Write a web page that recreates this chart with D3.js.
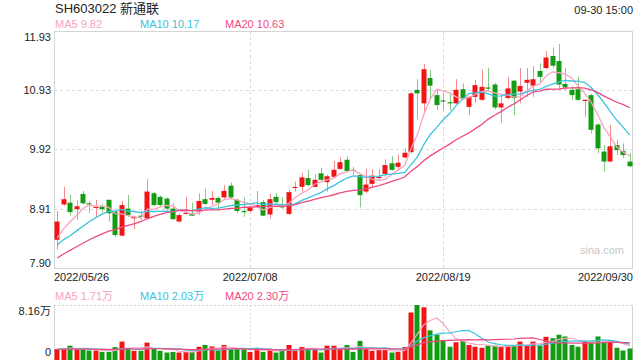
<!DOCTYPE html>
<html><head><meta charset="utf-8">
<script src="https://cdn.jsdelivr.net/npm/d3@7"></script>
<style>
html,body{margin:0;padding:0;background:#fff;}
svg{display:block;font-family:"Liberation Sans",Arial,"Noto Sans CJK SC",sans-serif;}
</style></head><body>
<svg id="c" width="640" height="360"></svg>
<script>
const dates = ["2022/05/26","2022/05/27","2022/05/30","2022/05/31",
"2022/06/01","2022/06/02","2022/06/06","2022/06/07","2022/06/08","2022/06/09","2022/06/10","2022/06/13","2022/06/14","2022/06/15","2022/06/16","2022/06/17","2022/06/20","2022/06/21","2022/06/22","2022/06/23","2022/06/24","2022/06/27","2022/06/28","2022/06/29","2022/06/30",
"2022/07/01","2022/07/04","2022/07/05","2022/07/06","2022/07/07","2022/07/08","2022/07/11","2022/07/12","2022/07/13","2022/07/14","2022/07/15","2022/07/18","2022/07/19","2022/07/20","2022/07/21","2022/07/22","2022/07/25","2022/07/26","2022/07/27","2022/07/28","2022/07/29",
"2022/08/01","2022/08/02","2022/08/03","2022/08/04","2022/08/05","2022/08/08","2022/08/09","2022/08/10","2022/08/11","2022/08/12","2022/08/15","2022/08/16","2022/08/17","2022/08/18","2022/08/19","2022/08/22","2022/08/23","2022/08/24","2022/08/25","2022/08/26","2022/08/29","2022/08/30","2022/08/31",
"2022/09/01","2022/09/02","2022/09/05","2022/09/06","2022/09/07","2022/09/08","2022/09/09","2022/09/13","2022/09/14","2022/09/15","2022/09/16","2022/09/19","2022/09/20","2022/09/21","2022/09/22","2022/09/23","2022/09/26","2022/09/27","2022/09/28","2022/09/29","2022/09/30"];

const open  = [8.38,8.98,9.01,8.90,9.16,9.00,8.93,8.94,9.06,8.86,8.45,8.91,8.745,8.79,8.745,9.17,9.11,9.08,8.91,8.69,
8.83,8.83,8.86,9.07,9.06,9.09,9.10,9.30,9.06,8.87,8.87,8.94,9.02,8.81,9.11,8.96,8.82,9.27,9.28,9.43,
9.28,9.51,9.36,9.45,9.585,9.74,9.57,9.48,9.20,9.33,9.44,9.50,9.68,9.62,9.78,9.87,10.93,10.70,11.13,10.84,
10.75,10.72,10.70,10.94,10.64,10.81,10.76,10.97,11.02,10.63,10.79,11.085,10.90,11.05,11.00,11.25,11.30,11.505,11.42,11.03,
10.93,10.94,10.75,10.84,10.34,9.88,9.71,9.99,9.89,9.71];
const high  = [8.87,9.28,9.14,9.05,9.21,9.04,9.06,8.99,9.06,8.88,9.04,9.14,8.79,8.88,9.41,9.19,9.13,9.10,9.00,8.83,
9.11,9.01,9.17,9.25,9.21,9.12,9.31,9.35,9.08,9.10,8.96,9.21,9.06,9.16,9.17,9.10,9.23,9.37,9.52,9.57,
9.50,9.60,9.49,9.72,9.78,9.80,9.62,9.50,9.58,9.58,9.58,9.75,9.80,9.83,9.935,10.90,11.11,11.37,11.27,10.93,
10.87,10.87,11.11,11.04,10.83,11.10,11.27,11.30,11.05,10.84,11.15,11.10,11.30,11.30,11.335,11.38,11.59,11.65,11.71,11.30,
10.99,11.15,10.77,10.86,10.36,9.99,10.33,10.08,10.02,9.85];
const low   = [8.21,8.96,8.79,8.72,8.98,8.83,8.77,8.85,8.69,8.43,8.44,8.77,8.56,8.71,8.74,8.95,8.95,8.88,8.72,8.67,
8.81,8.78,8.80,8.97,8.97,8.89,9.08,9.08,8.83,8.77,8.85,8.93,8.78,8.74,9.00,8.91,8.80,9.20,9.20,9.29,
9.27,9.38,9.20,9.43,9.57,9.53,9.48,8.93,9.17,9.28,9.40,9.45,9.55,9.55,9.76,9.85,10.42,10.56,10.79,10.59,
10.59,10.58,10.69,10.77,10.50,10.71,10.74,10.90,10.60,10.37,10.77,10.50,10.70,10.81,10.81,11.05,11.28,11.30,10.96,10.93,
10.76,10.74,10.47,10.19,9.85,9.54,9.70,9.82,9.77,9.62];
const close = [8.69,9.07,8.85,8.95,9.00,8.99,8.94,8.90,8.83,8.46,8.97,8.80,8.77,8.77,9.20,8.97,8.97,8.91,8.73,8.80,
8.84,8.79,9.04,8.99,9.09,9.01,9.21,9.10,8.87,8.86,8.94,8.97,8.79,9.07,9.02,8.93,9.19,9.28,9.44,9.31,
9.40,9.40,9.46,9.57,9.70,9.55,9.56,9.14,9.32,9.47,9.45,9.65,9.57,9.69,9.86,10.87,10.87,11.28,11.00,10.67,
10.74,10.71,10.93,10.79,10.81,11.01,10.98,10.96,10.63,10.70,10.955,10.79,10.995,11.10,11.11,11.15,11.48,11.34,11.02,10.97,
10.84,10.76,10.76,10.25,9.935,9.71,9.97,9.905,9.82,9.63];
// volume in 万 (10k shares)
const volume = [1.23,1.40,1.77,1.18,1.18,1.02,1.02,0.80,0.80,1.56,2.42,1.34,0.97,0.97,2.25,1.34,0.97,0.70,0.80,0.70,
0.80,0.80,1.61,1.88,1.66,1.02,1.88,1.23,1.23,1.23,0.80,1.23,0.80,1.23,0.70,0.97,1.88,0.97,1.56,1.23,
1.23,0.70,1.77,1.77,1.23,1.88,0.80,2.52,1.23,0.97,1.07,1.07,0.70,0.80,1.56,6.98,8.16,7.80,4.19,3.49,
2.68,1.61,2.31,2.52,1.88,1.61,1.45,1.77,1.77,1.61,1.77,1.77,2.42,1.88,2.42,1.77,3.17,2.95,3.49,3.22,
1.88,1.61,2.42,2.42,3.22,2.42,2.42,1.45,1.02,1.34];
// closes and volumes of the 19 sessions before the window (needed for the moving averages)
const prevClose = [7.70,7.62,7.75,7.80,7.78,7.90,7.95,7.88,8.02,8.10,8.15,8.20,8.12,8.20,8.18,8.30,8.25,8.42,8.40];
const prevVolume = [1.3,1.2,1.4,1.1,1.3,1.2,1.0,1.3,1.2,1.1,1.4,1.2,1.3,1.0,1.2,1.3,1.1,1.2,1.3];

const priceTicks = [11.93,10.93,9.92,8.91,7.90];
const volMax = 8.16;
const maPeriods = [5,10,20];
const maNames = ["MA5","MA10","MA20"];
const maLegend = ["9.82","10.17","10.63"];
const volMaLegend = ["1.71万","2.03万","2.30万"];
const dateTickIdx = [0,30,60,89];
const title = "SH603022 新通联";
const timeLabel = "09-30 15:00";

const maColors = ["#f9a3bf","#3cc3de","#ef4a82"];
const UP = "#f21414", DOWN = "#139c13", UPW = "#f58a8a", DOWNW = "#82c982";

const svg = d3.select("#c");
const L = 54, R = 633, T = 31, B = 268, VT = 305, VB = 357;
const n = close.length;
const x = d3.scaleBand().domain(d3.range(n)).range([L, R]).paddingInner(0.2).paddingOuter(0.1);
const cx = i => x(i) + x.bandwidth()/2;
const y = d3.scaleLinear().domain([7.90, 11.93]).range([B, T]);
const yv = d3.scaleLinear().domain([0, volMax]).range([VB, VT]);

function ma(series, prev, p){
  const all = prev.concat(series);
  const off = prev.length;
  return series.map((_, i) => d3.mean(all.slice(off + i - p + 1, off + i + 1)));
}

// header
svg.append("text").attr("x",55).attr("y",13).attr("font-size",13).attr("fill","#222")
  .attr("font-family","'Liberation Sans','Noto Sans CJK SC',sans-serif").text(title);
svg.append("text").attr("x",633).attr("y",14).attr("text-anchor","end").attr("font-size",11).attr("fill","#222").text(timeLabel);
maNames.forEach((nm,k)=>{
  svg.append("text").attr("x",55+85*k).attr("y",28).attr("font-size",11).attr("fill",maColors[k]).text(nm+" "+maLegend[k]);
  svg.append("text").attr("x",55+85*k).attr("y",300).attr("font-size",11).attr("fill",maColors[k])
    .attr("font-family","'Liberation Sans','Noto Sans CJK SC',sans-serif").text(nm+" "+volMaLegend[k]);
});

// frames and grids
const g = svg.append("g");
g.append("rect").attr("x",L+0.5).attr("y",T+0.5).attr("width",R-L-1).attr("height",B-T).attr("fill","none").attr("stroke","#d4d4d4");
priceTicks.slice(1,-1).forEach(v=>{
  g.append("line").attr("x1",L).attr("x2",R).attr("y1",Math.round(y(v))+0.5).attr("y2",Math.round(y(v))+0.5)
   .attr("stroke","#d8d8d8").attr("stroke-dasharray","3,3");
});
dateTickIdx.slice(1,-1).forEach(i=>{
  g.append("line").attr("x1",Math.round(cx(i))+0.5).attr("x2",Math.round(cx(i))+0.5).attr("y1",T).attr("y2",B)
   .attr("stroke","#d8d8d8").attr("stroke-dasharray","3,3");
  g.append("line").attr("x1",Math.round(cx(i))+0.5).attr("x2",Math.round(cx(i))+0.5).attr("y1",VT).attr("y2",VB)
   .attr("stroke","#d8d8d8").attr("stroke-dasharray","2,2");
});
// volume frame
g.append("line").attr("x1",L).attr("x2",R).attr("y1",VT+0.5).attr("y2",VT+0.5).attr("stroke","#cfcfcf").attr("stroke-dasharray","2,2");
g.append("line").attr("x1",L+0.5).attr("x2",L+0.5).attr("y1",VT).attr("y2",360).attr("stroke","#d4d4d4");
g.append("line").attr("x1",R-0.5).attr("x2",R-0.5).attr("y1",VT).attr("y2",360).attr("stroke","#d4d4d4");

// price axis labels
const yAxis = d3.axisLeft(y).tickValues(priceTicks).tickSize(0).tickPadding(3).tickFormat(d3.format(".2f"));
const ya = svg.append("g").attr("transform",`translate(${L},0)`).call(yAxis);
ya.select(".domain").remove();
ya.selectAll("text").attr("font-size",11).attr("fill","#222").attr("font-family","'Liberation Sans',Arial,sans-serif")
  .attr("dy",(d)=> d===priceTicks[0] ? "0.85em" : d===priceTicks[priceTicks.length-1] ? "-0.1em" : "0.32em");

// volume axis labels
const vAxis = d3.axisLeft(yv).tickValues([volMax,0]).tickSize(0).tickPadding(3).tickFormat(d=> d===0 ? "0" : d3.format(".2f")(d)+"万");
const va = svg.append("g").attr("transform",`translate(${L},0)`).call(vAxis);
va.select(".domain").remove();
va.selectAll("text").attr("font-size",11).attr("fill","#222").attr("font-family","'Liberation Sans','Noto Sans CJK SC',sans-serif")
  .attr("dy",(d)=> d===0 ? "-0.15em" : "0.85em");

// date labels
dateTickIdx.forEach((i,k)=>{
  const anchor = k===0 ? "start" : k===dateTickIdx.length-1 ? "end" : "middle";
  const xx = k===0 ? L : k===dateTickIdx.length-1 ? R : cx(i);
  svg.append("text").attr("x",xx).attr("y",281).attr("text-anchor",anchor).attr("font-size",11).attr("fill","#222").text(dates[i]);
});

// watermark
svg.append("text").attr("x",624).attr("y",254).attr("text-anchor","end").attr("font-size",11).attr("fill","#c8c8c8").text("sina.com");

// candles
const idx = d3.range(n);
const isUp = i => close[i] >= open[i];
const cg = svg.append("g");
cg.selectAll("line.w").data(idx).join("line")
  .attr("x1",i=>Math.round(cx(i))+0.5).attr("x2",i=>Math.round(cx(i))+0.5)
  .attr("y1",i=>y(high[i])).attr("y2",i=>y(low[i]))
  .attr("stroke",i=>isUp(i)?UPW:DOWNW).attr("stroke-width",1);
cg.selectAll("rect.b").data(idx).join("rect")
  .attr("x",i=>Math.round(cx(i))-2.5).attr("width",5)
  .attr("y",i=>y(Math.max(open[i],close[i])))
  .attr("height",i=>Math.max(1.2, Math.abs(y(open[i])-y(close[i]))))
  .attr("fill",i=>isUp(i)?UP:DOWN);

// price MAs
const line = d3.line().x((d,i)=>cx(i)).y(d=>y(d));
maPeriods.forEach((p,k)=>{
  svg.append("path").attr("d",line(ma(close,prevClose,p))).attr("fill","none")
    .attr("stroke",maColors[k]).attr("stroke-width",1.3);
});

// volume bars
svg.append("g").selectAll("rect").data(idx).join("rect")
  .attr("x",i=>Math.round(cx(i))-2.5).attr("width",5)
  .attr("y",i=>yv(volume[i])).attr("height",i=>VB-yv(volume[i])+3)
  .attr("fill",i=>isUp(i)?UP:DOWN);
const vline = d3.line().x((d,i)=>cx(i)).y(d=>yv(d));
maPeriods.forEach((p,k)=>{
  svg.append("path").attr("d",vline(ma(volume,prevVolume,p))).attr("fill","none")
    .attr("stroke",maColors[k]).attr("stroke-width",1.2);
});
</script>
</body></html>
